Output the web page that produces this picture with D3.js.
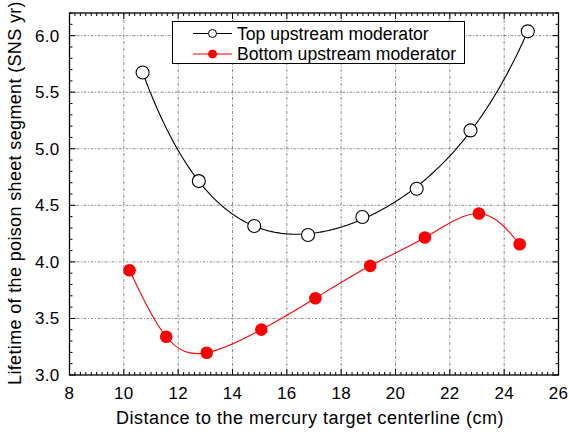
<!DOCTYPE html>
<html>
<head>
<meta charset="utf-8">
<script src="https://cdn.jsdelivr.net/npm/d3@7/dist/d3.min.js"></script>
<style>
  html, body { margin: 0; padding: 0; background: #fff; }
  svg { display: block; font-family: "Liberation Sans", Arial, Helvetica, sans-serif; }
</style>
</head>
<body>
<svg id="chart" width="569" height="434"></svg>
<script>
// Distance (cm) and lifetime (SNS yr) for the two upstream moderators
const topDistance = [10.69, 12.76, 14.80, 16.78, 18.78, 20.78, 22.76, 24.87];
const topLifetime = [5.674, 4.714, 4.317, 4.238, 4.397, 4.647, 5.162, 6.038];
const bottomDistance = [10.21, 11.56, 13.05, 15.06, 17.05, 19.07, 21.08, 23.07, 24.57];
const bottomLifetime = [3.926, 3.338, 3.197, 3.401, 3.679, 3.965, 4.215, 4.427, 4.156];

const seriesNames = ["Top upstream moderator", "Bottom upstream moderator"];
const xTicks = [8, 10, 12, 14, 16, 18, 20, 22, 24, 26];
const yTicks = [3.0, 3.5, 4.0, 4.5, 5.0, 5.5, 6.0];
const xTitle = "Distance to the mercury target centerline (cm)";
const yTitle = "Lifetime of the poison sheet segment (SNS yr)";

const svg = d3.select("#chart");
const plotL = 69.5, plotR = 558.5, plotT = 13, plotB = 375;

const x = d3.scaleLinear().domain([8, 26]).range([plotL, plotR]);
const y = d3.scaleLinear().domain([3.0, 6.2]).range([plotB, plotT]);

// grid
const grid = svg.append("g").attr("stroke", "#808080").attr("stroke-width", 0.9)
  .attr("stroke-dasharray", "3,1.5,1,1.5");
xTicks.slice(1, -1).forEach(v => grid.append("line")
  .attr("x1", x(v)).attr("x2", x(v)).attr("y1", plotT).attr("y2", plotB));
yTicks.slice(1).forEach(v => grid.append("line")
  .attr("x1", plotL).attr("x2", plotR).attr("y1", y(v)).attr("y2", y(v)));

// inward ticks on all four sides
const minorX = d3.range(8, 26.0001, 0.2).map(v => +v.toFixed(2));
const minorY = d3.range(3.0, 6.2001, 0.1).map(v => +v.toFixed(2));
const ticksG = svg.append("g").attr("stroke", "#000").attr("stroke-width", 1);
const isMajorX = v => xTicks.some(t => Math.abs(t - v) < 1e-6);
const isMajorY = v => yTicks.some(t => Math.abs(t - v) < 1e-6);
minorX.forEach(v => {
  const len = isMajorX(v) ? 6 : 3;
  ticksG.append("line").attr("x1", x(v)).attr("x2", x(v)).attr("y1", plotB).attr("y2", plotB - len);
  ticksG.append("line").attr("x1", x(v)).attr("x2", x(v)).attr("y1", plotT).attr("y2", plotT + len);
});
minorY.forEach(v => {
  const len = isMajorY(v) ? 6 : 3;
  ticksG.append("line").attr("x1", plotL).attr("x2", plotL + len).attr("y1", y(v)).attr("y2", y(v));
  ticksG.append("line").attr("x1", plotR).attr("x2", plotR - len).attr("y1", y(v)).attr("y2", y(v));
});

// frame
svg.append("rect").attr("x", plotL).attr("y", plotT).attr("width", plotR - plotL).attr("height", plotB - plotT)
  .attr("fill", "none").attr("stroke", "#000").attr("stroke-width", 1.3);

// tick labels
svg.append("g").selectAll("text").data(xTicks).join("text")
  .attr("x", d => x(d)).attr("y", plotB + 23.5).attr("text-anchor", "middle")
  .attr("font-size", 17).attr("letter-spacing", 0.3).attr("fill", "#000").text(d => d);
svg.append("g").selectAll("text").data(yTicks).join("text")
  .attr("x", plotL - 10).attr("y", d => y(d) + 6).attr("text-anchor", "end")
  .attr("font-size", 17).attr("letter-spacing", 0.3).attr("fill", "#000").text(d => d.toFixed(1));

// axis titles
svg.append("text").attr("x", (plotL + plotR) / 2 - 4).attr("y", 424).attr("text-anchor", "middle")
  .attr("font-size", 18).attr("letter-spacing", 0.5).text(xTitle);
svg.append("text").attr("transform", `translate(21,${(plotT + plotB) / 2 - 1}) rotate(-90)`)
  .attr("text-anchor", "middle").attr("font-size", 18).attr("letter-spacing", 0.35).text(yTitle);

// least-squares polynomial fit for the top moderator trend
function polyFit(xs, ys, deg) {
  const n = deg + 1;
  const A = Array.from({length: n}, () => new Array(n + 1).fill(0));
  xs.forEach((xv, k) => {
    for (let i = 0; i < n; i++) {
      for (let j = 0; j < n; j++) A[i][j] += Math.pow(xv, i + j);
      A[i][n] += ys[k] * Math.pow(xv, i);
    }
  });
  for (let c = 0; c < n; c++) {
    let p = c;
    for (let r = c + 1; r < n; r++) if (Math.abs(A[r][c]) > Math.abs(A[p][c])) p = r;
    [A[c], A[p]] = [A[p], A[c]];
    for (let r = 0; r < n; r++) if (r !== c) {
      const f = A[r][c] / A[c][c];
      for (let j = c; j <= n; j++) A[r][j] -= f * A[c][j];
    }
  }
  return A.map((row, i) => row[n] / row[i]);
}
const coef = polyFit(topDistance.map(v => v - 17), topLifetime, 4);
const fitVal = xv => coef.reduce((s, c, i) => s + c * Math.pow(xv - 17, i), 0);
const fitPts = d3.range(topDistance[0], topDistance[topDistance.length - 1] + 0.001, 0.05)
  .map(xv => [xv, fitVal(xv)]);

const line = d3.line().x(d => x(d[0])).y(d => y(d[1]));
svg.append("path").datum(fitPts).attr("d", line).attr("fill", "none")
  .attr("stroke", "#000").attr("stroke-width", 1.1);

const bottomPts = bottomDistance.map((d, i) => [d, bottomLifetime[i]]);
svg.append("path").datum(bottomPts).attr("d", line.curve(d3.curveNatural))
  .attr("fill", "none").attr("stroke", "#ff0000").attr("stroke-width", 1.1);

// markers
svg.append("g").selectAll("circle").data(topDistance.map((d, i) => [d, topLifetime[i]])).join("circle")
  .attr("cx", d => x(d[0])).attr("cy", d => y(d[1])).attr("r", 6.5)
  .attr("fill", "#fff").attr("stroke", "#000").attr("stroke-width", 1.1);
svg.append("g").selectAll("circle").data(bottomPts).join("circle")
  .attr("cx", d => x(d[0])).attr("cy", d => y(d[1])).attr("r", 6.3)
  .attr("fill", "#ff0000");

// legend
const lg = svg.append("g");
lg.append("rect").attr("x", 172.5).attr("y", 21.5).attr("width", 292).attr("height", 42)
  .attr("fill", "#fff").attr("stroke", "#000").attr("stroke-width", 1);
const rows = [
  {name: seriesNames[0], color: "#000", fill: "#fff", cy: 33.5},
  {name: seriesNames[1], color: "#ff0000", fill: "#ff0000", cy: 54}
];
rows.forEach(r => {
  lg.append("line").attr("x1", 193).attr("x2", 232).attr("y1", r.cy).attr("y2", r.cy)
    .attr("stroke", r.color).attr("stroke-width", 1.1);
  lg.append("circle").attr("cx", 212.5).attr("cy", r.cy).attr("r", 4)
    .attr("fill", r.fill).attr("stroke", r.color).attr("stroke-width", 1);
  lg.append("text").attr("x", 237).attr("y", r.cy + 6.3).attr("font-size", 17.6).text(r.name);
});
</script>
</body>
</html>
